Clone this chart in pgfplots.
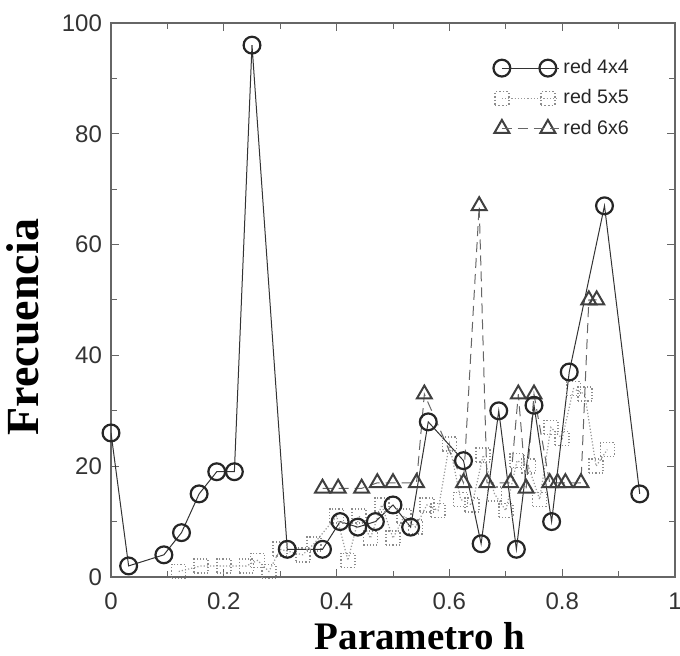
\documentclass[border=0pt]{standalone}
\usepackage{fontspec}
\setmainfont{Liberation Sans}
\newfontfamily\serifbold{Liberation Serif}
\usepackage{pgfplots}
\pgfplotsset{compat=1.18}

\pgfplotsset{
  circstyle/.style={black!80, line width=0.5pt, mark=o, mark size=4.2pt, mark options={solid, line width=1.1pt, black!85}},
  sqstyle/.style={black!40, densely dotted, line width=0.6pt, mark=square, mark size=3.5pt, mark options={densely dotted, line width=0.8pt, black!45}},
  tristyle/.style={black!60, dash pattern=on 5pt off 3pt, line width=0.5pt, mark=triangle, mark size=4.3pt, mark options={solid, line width=1pt, black!75}},
}

\begin{document}
\begin{tikzpicture}
\begin{axis}[
  at={(0,0)}, anchor=south west,
  scale only axis, width=282pt, height=277pt,
  xmin=0, xmax=1, ymin=0, ymax=100,
  xtick={0,0.2,0.4,0.6,0.8,1}, xticklabels={0,0.2,0.4,0.6,0.8,1},
  minor xtick={0.1,0.3,0.5,0.7,0.9},
  ytick={0,20,40,60,80,100},
  minor ytick={10,30,50,70,90},
  tick align=inside,
  major tick length=4pt, minor tick length=3pt,
  every tick/.style={black!60, line width=0.5pt},
  axis line style={black!60, line width=0.6pt},
  tick label style={font=\fontsize{12}{14}\selectfont, text=black!80},
  /pgf/number format/assume math mode=true,
  xticklabel style={yshift=-4.5pt},
  yticklabel style={xshift=-1pt},
  xlabel={Parametro h},
  xlabel style={font=\serifbold\bfseries\fontsize{19.5}{22}\selectfont, at={(axis description cs:0.548,-0.1065)}, anchor=center},
  ylabel={Frecuencia},
  ylabel style={font=\serifbold\bfseries\fontsize{23}{25}\selectfont, at={(axis description cs:-0.1555,0.451)}, anchor=center},
  legend style={draw=none, fill=none, at={(axis description cs:0.926,0.942)}, anchor=north east, font=\fontsize{9.8}{12}\selectfont, row sep=2.5pt, inner sep=0pt, text=black!85},
  legend cell align=left,
  legend image code/.code={\draw[#1] plot coordinates {(0pt,0pt) (23pt,0pt)}; \path (0pt,0pt) -- (28.5pt,0pt);},
]
\addlegendimage{circstyle}
\addlegendentry{red 4x4}
\addlegendimage{sqstyle}
\addlegendentry{red 5x5}
\addlegendimage{tristyle}
\addlegendentry{red 6x6}

% red 5x5
\addplot[sqstyle, forget plot] coordinates {
(0.12,1) (0.16,2) (0.20,2) (0.24,2) (0.26,3) (0.28,1) (0.30,5) (0.34,4) (0.36,6)
(0.40,11) (0.42,3) (0.44,11) (0.46,7) (0.48,13) (0.50,7) (0.52,11) (0.54,9)
(0.56,13) (0.58,12) (0.60,24) (0.62,14) (0.64,13) (0.66,22) (0.68,15) (0.70,12)
(0.72,21) (0.74,20) (0.76,14) (0.78,27) (0.80,25) (0.82,34) (0.84,33) (0.86,20) (0.88,23)
};

% red 6x6
\addplot[tristyle, forget plot] coordinates {
(0.3750,16) (0.4028,16) (0.4444,16) (0.4722,17) (0.5000,17) (0.5417,17) (0.5556,33)
(0.6250,17) (0.6528,67) (0.6667,17) (0.7083,17) (0.7222,33) (0.7361,16) (0.7500,33)
(0.7778,17) (0.7917,17) (0.8056,17) (0.8333,17) (0.8472,50) (0.8611,50)
};

% red 4x4
\addplot[circstyle, forget plot] coordinates {
(0,26) (0.03125,2) (0.09375,4) (0.125,8) (0.15625,15) (0.1875,19) (0.21875,19)
(0.25,96) (0.3125,5) (0.375,5) (0.40625,10) (0.4375,9) (0.46875,10) (0.5,13)
(0.53125,9) (0.5625,28) (0.625,21) (0.65625,6) (0.6875,30) (0.71875,5) (0.75,31)
(0.78125,10) (0.8125,37) (0.875,67) (0.9375,15)
};
\end{axis}
\pgfresetboundingbox
\path[use as bounding box] (-55.5pt,-39.5pt) rectangle (284.5pt,288.5pt);
\end{tikzpicture}
\end{document}
